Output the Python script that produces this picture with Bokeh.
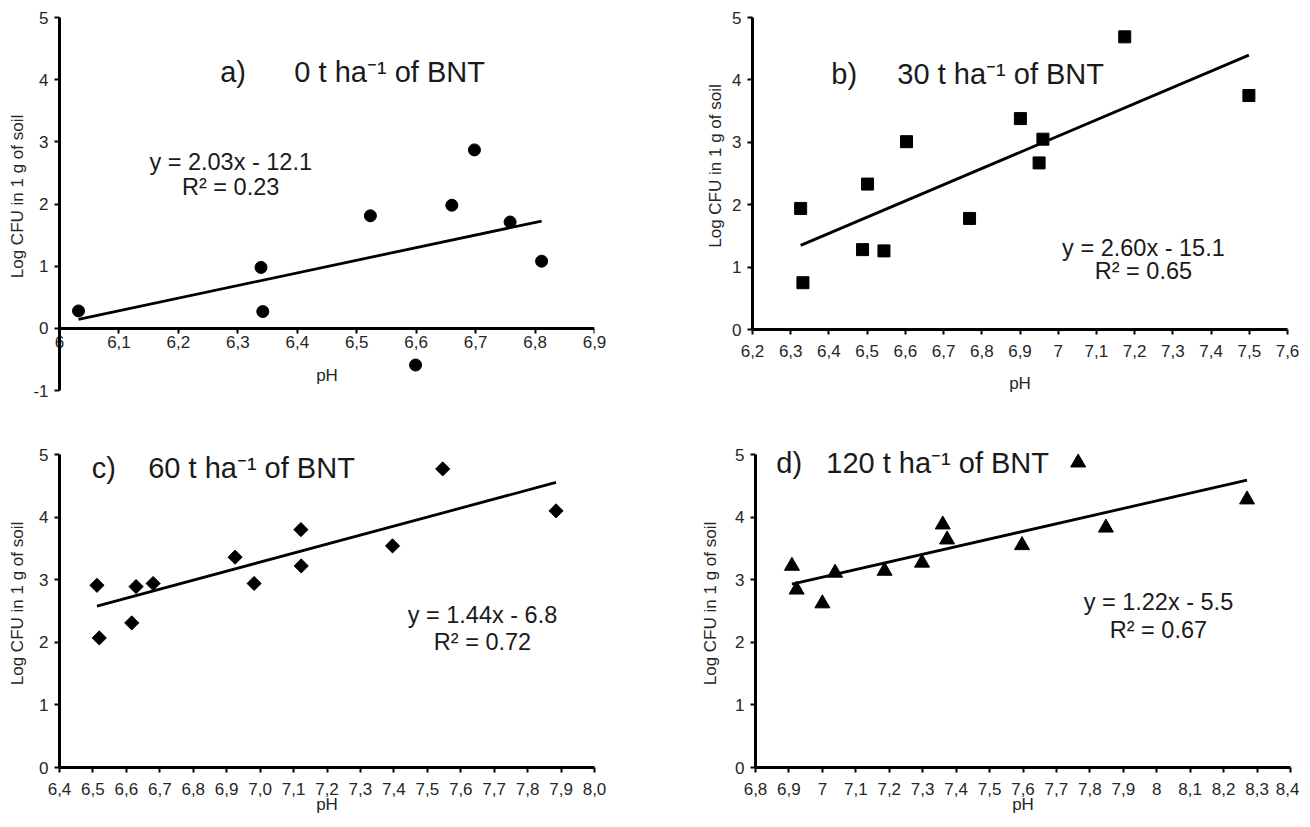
from bokeh.plotting import figure
from bokeh.layouts import column, row
from bokeh.models import Range1d, FixedTicker, ColumnDataSource, LinearAxis
from bokeh.core.properties import value
from bokeh.embed import file_html
from bokeh.resources import INLINE

FONT = "Liberation Sans"
NB = "\u00a0"

# ---------------- data ----------------
a_ph = [6.032, 6.339, 6.342, 6.523, 6.599, 6.660, 6.698, 6.758, 6.811]
a_log = [0.28, 0.98, 0.27, 1.81, -0.59, 1.98, 2.87, 1.71, 1.08]
a_coef = (2.03, -12.1)

b_ph = [6.326, 6.332, 6.488, 6.501, 6.544, 6.603, 6.768, 6.901, 6.950, 6.960, 7.174, 7.499]
b_log = [1.94, 0.75, 1.28, 2.33, 1.26, 3.01, 1.78, 3.38, 2.67, 3.05, 4.69, 3.75]
b_coef = (2.60, -15.1)

c_ph = [6.512, 6.519, 6.616, 6.629, 6.680, 6.925, 6.982, 7.122, 7.123, 7.396, 7.546, 7.885]
c_log = [2.91, 2.07, 2.31, 2.89, 2.94, 3.36, 2.94, 3.80, 3.22, 3.54, 4.77, 4.10]
c_coef = (1.44, -6.8)

d_ph = [6.909, 6.923, 7.000, 7.038, 7.186, 7.298, 7.360, 7.373, 7.597, 7.765, 7.848, 8.270]
d_log = [3.22, 2.84, 2.62, 3.11, 3.14, 3.27, 3.88, 3.64, 3.55, 4.87, 3.83, 4.28]
d_coef = (1.22, -5.5)

a_xticks = [6.0, 6.1, 6.2, 6.3, 6.4, 6.5, 6.6, 6.7, 6.8, 6.9]
a_xlabels = ["6", "6,1", "6,2", "6,3", "6,4", "6,5", "6,6", "6,7", "6,8", "6,9"]
b_xticks = [6.2, 6.3, 6.4, 6.5, 6.6, 6.7, 6.8, 6.9, 7.0, 7.1, 7.2, 7.3, 7.4, 7.5, 7.6]
b_xlabels = ["6,2", "6,3", "6,4", "6,5", "6,6", "6,7", "6,8", "6,9", "7", "7,1", "7,2", "7,3", "7,4", "7,5", "7,6"]
c_xticks = [6.4, 6.5, 6.6, 6.7, 6.8, 6.9, 7.0, 7.1, 7.2, 7.3, 7.4, 7.5, 7.6, 7.7, 7.8, 7.9, 8.0]
c_xlabels = ["6,4", "6,5", "6,6", "6,7", "6,8", "6,9", "7,0", "7,1", "7,2", "7,3", "7,4", "7,5", "7,6", "7,7", "7,8", "7,9", "8,0"]
d_xticks = [6.8, 6.9, 7.0, 7.1, 7.2, 7.3, 7.4, 7.5, 7.6, 7.7, 7.8, 7.9, 8.0, 8.1, 8.2, 8.3, 8.4]
d_xlabels = ["6,8", "6,9", "7", "7,1", "7,2", "7,3", "7,4", "7,5", "7,6", "7,7", "7,8", "7,9", "8", "8,1", "8,2", "8,3", "8,4"]
a_yticks = [-1, 0, 1, 2, 3, 4, 5]
a_ylabels = ["-1", "0", "1", "2", "3", "4", "5"]
yticks = [0, 1, 2, 3, 4, 5]

titles = ["a)" + NB * 6 + "0 t ha\u207b\u00b9 of BNT",
          "b)" + NB * 5 + "30 t ha\u207b\u00b9 of BNT",
          "c)" + NB * 4 + "60 t ha\u207b\u00b9 of BNT",
          "d)" + NB * 3 + "120 t ha\u207b\u00b9 of BNT"]
eqs = [("y = 2.03x - 12.1", "R\u00b2 = 0.23"),
       ("y = 2.60x - 15.1", "R\u00b2 = 0.65"),
       ("y = 1.44x - 6.8", "R\u00b2 = 0.72"),
       ("y = 1.22x - 5.5", "R\u00b2 = 0.67")]
y_title = "Log CFU in 1 g of soil"
x_title = "pH"

# annotation positions (data coords)
title_pos = [(6.493, 4.12), (6.763, 4.09), (6.890, 4.79), (7.270, 4.86)]
eq_pos = [(6.288, 2.67, 2.28), (7.223, 1.31, 0.93), (7.665, 2.44, 2.01), (8.005, 2.64, 2.20)]

TICK_PX = "17px"
TEXT_COL = "#262626"
HEAD = 15  # px of empty frame above the y=5 tick (room for the panel titles)


def style_axis(ax):
    ax.axis_line_width = 3
    ax.axis_line_color = "black"
    ax.major_tick_line_width = 2
    ax.major_tick_line_color = "black"
    ax.major_tick_out = 5
    ax.major_tick_in = 0
    ax.minor_tick_line_color = None
    ax.major_label_text_font = FONT
    ax.major_label_text_font_size = TICK_PX
    ax.major_label_text_color = TEXT_COL
    ax.axis_label_text_font = FONT
    ax.axis_label_text_font_size = TICK_PX
    ax.axis_label_text_font_style = "normal"
    ax.axis_label_text_color = TEXT_COL


def make_panel(ph, logv, coef, xticks, xlabels, yt, xr, ymin, px_per_unit, borders,
               marker, msize, angle, title, tpos, eq, epos, ystand, xlab_stand,
               xtitle_stand, fixed_x=False, ylabels=None):
    left, right, top, bottom = borders
    frame_h = int(round((5 - ymin) * px_per_unit)) + HEAD
    ymax = 5 + HEAD / px_per_unit
    p = figure(frame_width=535, frame_height=frame_h,
               x_range=Range1d(*xr), y_range=Range1d(ymin, ymax),
               min_border_left=left, min_border_right=right,
               min_border_top=top, min_border_bottom=bottom,
               output_backend="svg", toolbar_location=None,
               background_fill_color="white", border_fill_color="white")
    p.outline_line_color = None
    p.grid.visible = False
    xa = p.xaxis[0]
    ya = p.yaxis[0]
    style_axis(xa)
    style_axis(ya)
    xa.ticker = FixedTicker(ticks=xticks)
    xa.major_label_overrides = {t: l for t, l in zip(xticks, xlabels)}
    xa.major_label_standoff = xlab_stand
    xa.axis_label = x_title
    xa.axis_label_standoff = xtitle_stand
    if fixed_x:
        # labels drawn by the frame-bottom axis, line and ticks by an axis fixed at y=0
        xa.axis_line_color = None
        xa.major_tick_line_color = None
        ax0 = LinearAxis(fixed_location=0, ticker=FixedTicker(ticks=xticks))
        style_axis(ax0)
        ax0.major_label_text_color = None
        ax0.major_label_text_font_size = "0px"
        ax0.major_label_standoff = 0
        p.add_layout(ax0, "below")
    ya.ticker = FixedTicker(ticks=yt)
    ya.bounds = (ymin, 5)
    if ylabels is not None:
        ya.major_label_overrides = {t: l for t, l in zip(yt, ylabels)}
    ya.major_label_standoff = 6
    ya.axis_label = y_title
    ya.axis_label_standoff = ystand

    src = ColumnDataSource(dict(x=ph, y=logv))
    x0, x1 = min(ph), max(ph)
    p.line(x=[x0, x1], y=[coef[0] * x0 + coef[1], coef[0] * x1 + coef[1]],
           line_color="black", line_width=2.8)
    p.scatter(x="x", y="y", source=src, marker=marker, size=msize, angle=angle,
              fill_color="black", line_color="black")
    p.text(x=[tpos[0]], y=[tpos[1]], text=[title], text_font=value(FONT),
           text_font_size="29px", text_align="center", text_baseline="middle",
           text_color="#1a1a1a")
    p.text(x=[epos[0], epos[0]], y=[epos[1], epos[2]], text=list(eq),
           text_font=value(FONT), text_font_size="23.5px", text_align="center",
           text_baseline="middle", text_color="#1a1a1a")
    return p


pa = make_panel(a_ph, a_log, a_coef, a_xticks, a_xlabels, a_yticks, (6.0, 6.9), -1, 373 / 6,
                (59, 20, 2, 47), "circle", 12, 0, titles[0], title_pos[0], eqs[0], eq_pos[0],
                3, -60, 15, fixed_x=True, ylabels=a_ylabels)

pb = make_panel(b_ph, b_log, b_coef, b_xticks, b_xlabels, yticks, (6.2, 7.6), 0, 312 / 5,
                (138, 12, 2, 108), "square", 12, 0, titles[1], title_pos[1], eqs[1], eq_pos[1],
                4, 10, 14)

pc = make_panel(c_ph, c_log, c_coef, c_xticks, c_xlabels, yticks, (6.4, 8.0), 0, 313 / 5,
                (59, 20, 2, 50), "square", 10, 0.785398, titles[2], title_pos[2], eqs[2], eq_pos[2],
                9, 10, -3)

pd = make_panel(d_ph, d_log, d_coef, d_xticks, d_xlabels, yticks, (6.8, 8.4), 0, 313 / 5,
                (141, 9, 2, 50), "triangle", 15, 0, titles[3], title_pos[3], eqs[3], eq_pos[3],
                12, 10, -3)

layout = column(row(pa, pb), row(pc, pd))
open("out.html", "w").write(file_html(layout, INLINE))
